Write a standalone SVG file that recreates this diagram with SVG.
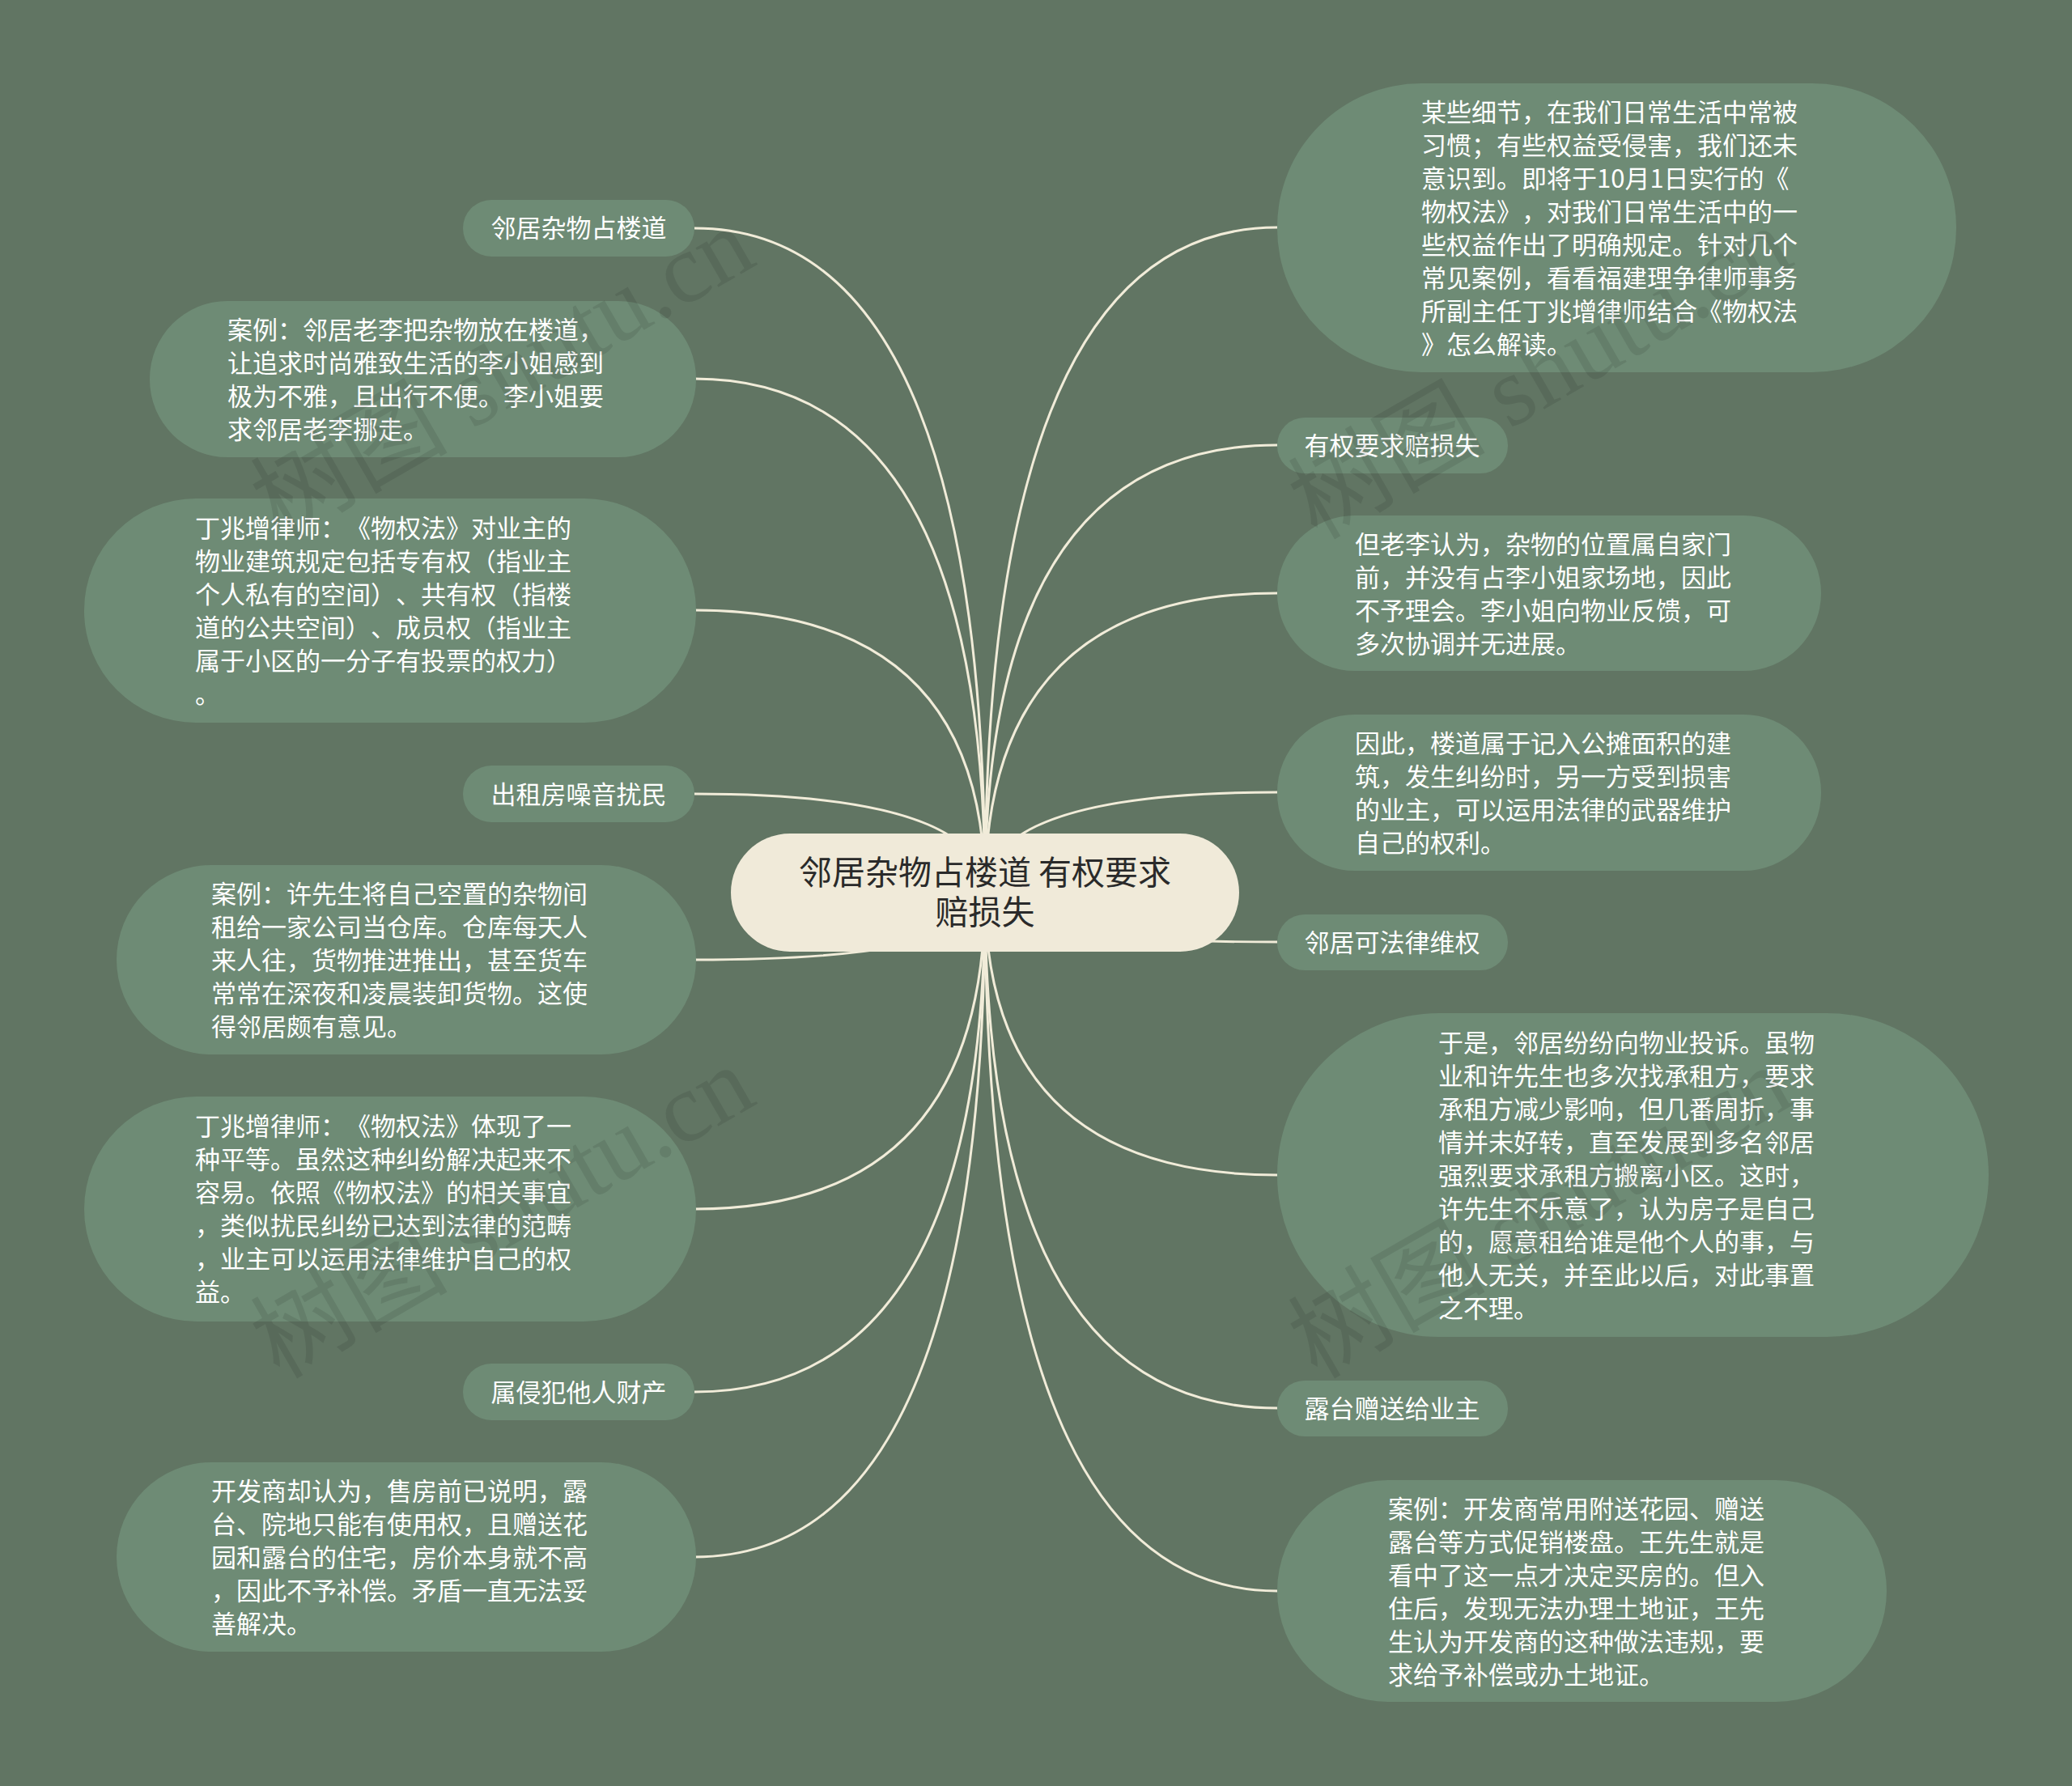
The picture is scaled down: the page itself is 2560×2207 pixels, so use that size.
<svg xmlns="http://www.w3.org/2000/svg" width="2560" height="2207" viewBox="0 0 2560 2207">
<style>
.bg{fill:#617563}
.node{fill:#6e8b75}
.root{fill:#f0ead9}
.t{font-family:"Noto Sans CJK SC","Noto Sans",sans-serif;font-size:31px;fill:#ffffff;text-spacing-trim:space-all;font-feature-settings:"chws" 0,"halt" 0}
.tc{text-anchor:middle}
.rt{font-family:"Noto Sans CJK SC","Noto Sans",sans-serif;font-size:41px;fill:#2a2a2a;text-anchor:middle}
.wm{font-family:"Liberation Serif","Noto Sans CJK SC",serif;font-size:122px;fill:#000000;fill-opacity:0.09}
#connectors path{fill:none;stroke:#f1ecd9;stroke-width:3}
</style>
<rect class="bg" x="0" y="0" width="2560" height="2207"/>
<g id="connectors">
<path d="M1217 1103 Q1217 282 858 282"/>
<path d="M1217 1103 Q1217 468 858 468"/>
<path d="M1217 1103 Q1217 754 858 754"/>
<path d="M1217 1103 Q1217 981 858 981"/>
<path d="M1217 1103 Q1217 1186 858 1186"/>
<path d="M1217 1103 Q1217 1494 858 1494"/>
<path d="M1217 1103 Q1217 1720 858 1720"/>
<path d="M1217 1103 Q1217 1924 858 1924"/>
<path d="M1217 1103 Q1217 281 1578 281"/>
<path d="M1217 1103 Q1217 550 1578 550"/>
<path d="M1217 1103 Q1217 733 1578 733"/>
<path d="M1217 1103 Q1217 979 1578 979"/>
<path d="M1217 1103 Q1217 1164 1578 1164"/>
<path d="M1217 1103 Q1217 1452 1578 1452"/>
<path d="M1217 1103 Q1217 1740 1578 1740"/>
<path d="M1217 1103 Q1217 1966 1578 1966"/>
</g>
<g id="root">
<rect class="root" x="903" y="1030" width="628" height="146" rx="73"/>
<text class="rt"><tspan x="1217" y="1093">邻居杂物占楼道 有权要求</tspan><tspan x="1217" y="1142">赔损失</tspan></text>
</g>
<g id="n1">
<rect class="node" x="572" y="247" width="286" height="70" rx="35"/>
<text class="t tc" x="715" y="293">邻居杂物占楼道</text>
</g>
<g id="n2">
<rect class="node" x="185" y="372" width="675" height="193" rx="96"/>
<text class="t"><tspan x="281" y="419">案例：邻居老李把杂物放在楼道，</tspan><tspan x="281" y="460">让追求时尚雅致生活的李小姐感到</tspan><tspan x="281" y="501">极为不雅，且出行不便。李小姐要</tspan><tspan x="281" y="542">求邻居老李挪走。</tspan></text>
</g>
<g id="n3">
<rect class="node" x="104" y="616" width="756" height="277" rx="138"/>
<text class="t"><tspan x="241" y="664">丁兆增律师：《物权法》对业主的</tspan><tspan x="241" y="705">物业建筑规定包括专有权（指业主</tspan><tspan x="241" y="746">个人私有的空间）、共有权（指楼</tspan><tspan x="241" y="787">道的公共空间）、成员权（指业主</tspan><tspan x="241" y="828">属于小区的一分子有投票的权力）</tspan><tspan x="241" y="869">。</tspan></text>
</g>
<g id="n4">
<rect class="node" x="572" y="946" width="286" height="70" rx="35"/>
<text class="t tc" x="715" y="993">出租房噪音扰民</text>
</g>
<g id="n5">
<rect class="node" x="144" y="1069" width="716" height="234" rx="117"/>
<text class="t"><tspan x="261" y="1116">案例：许先生将自己空置的杂物间</tspan><tspan x="261" y="1157">租给一家公司当仓库。仓库每天人</tspan><tspan x="261" y="1198">来人往，货物推进推出，甚至货车</tspan><tspan x="261" y="1239">常常在深夜和凌晨装卸货物。这使</tspan><tspan x="261" y="1280">得邻居颇有意见。</tspan></text>
</g>
<g id="n6">
<rect class="node" x="104" y="1355" width="756" height="278" rx="139"/>
<text class="t"><tspan x="241" y="1403">丁兆增律师：《物权法》体现了一</tspan><tspan x="241" y="1444">种平等。虽然这种纠纷解决起来不</tspan><tspan x="241" y="1485">容易。依照《物权法》的相关事宜</tspan><tspan x="241" y="1526">，类似扰民纠纷已达到法律的范畴</tspan><tspan x="241" y="1567">，业主可以运用法律维护自己的权</tspan><tspan x="241" y="1608">益。</tspan></text>
</g>
<g id="n7">
<rect class="node" x="572" y="1685" width="286" height="70" rx="35"/>
<text class="t tc" x="715" y="1732">属侵犯他人财产</text>
</g>
<g id="n8">
<rect class="node" x="144" y="1807" width="716" height="234" rx="117"/>
<text class="t"><tspan x="261" y="1854">开发商却认为，售房前已说明，露</tspan><tspan x="261" y="1895">台、院地只能有使用权，且赠送花</tspan><tspan x="261" y="1936">园和露台的住宅，房价本身就不高</tspan><tspan x="261" y="1977">，因此不予补偿。矛盾一直无法妥</tspan><tspan x="261" y="2018">善解决。</tspan></text>
</g>
<g id="n9">
<rect class="node" x="1578" y="103" width="839" height="357" rx="178"/>
<text class="t"><tspan x="1756" y="150">某些细节，在我们日常生活中常被</tspan><tspan x="1756" y="191">习惯；有些权益受侵害，我们还未</tspan><tspan x="1756" y="232">意识到。即将于10月1日实行的《</tspan><tspan x="1756" y="273">物权法》，对我们日常生活中的一</tspan><tspan x="1756" y="314">些权益作出了明确规定。针对几个</tspan><tspan x="1756" y="355">常见案例，看看福建理争律师事务</tspan><tspan x="1756" y="396">所副主任丁兆增律师结合《物权法</tspan><tspan x="1756" y="437">》怎么解读。</tspan></text>
</g>
<g id="n10">
<rect class="node" x="1578" y="516" width="285" height="69" rx="34"/>
<text class="t tc" x="1720" y="562">有权要求赔损失</text>
</g>
<g id="n11">
<rect class="node" x="1578" y="637" width="672" height="192" rx="96"/>
<text class="t"><tspan x="1674" y="684">但老李认为，杂物的位置属自家门</tspan><tspan x="1674" y="725">前，并没有占李小姐家场地，因此</tspan><tspan x="1674" y="766">不予理会。李小姐向物业反馈，可</tspan><tspan x="1674" y="807">多次协调并无进展。</tspan></text>
</g>
<g id="n12">
<rect class="node" x="1578" y="883" width="672" height="193" rx="96"/>
<text class="t"><tspan x="1674" y="930">因此，楼道属于记入公摊面积的建</tspan><tspan x="1674" y="971">筑，发生纠纷时，另一方受到损害</tspan><tspan x="1674" y="1012">的业主，可以运用法律的武器维护</tspan><tspan x="1674" y="1053">自己的权利。</tspan></text>
</g>
<g id="n13">
<rect class="node" x="1578" y="1130" width="285" height="69" rx="34"/>
<text class="t tc" x="1720" y="1176">邻居可法律维权</text>
</g>
<g id="n14">
<rect class="node" x="1578" y="1252" width="879" height="400" rx="200"/>
<text class="t"><tspan x="1777" y="1300">于是，邻居纷纷向物业投诉。虽物</tspan><tspan x="1777" y="1341">业和许先生也多次找承租方，要求</tspan><tspan x="1777" y="1382">承租方减少影响，但几番周折，事</tspan><tspan x="1777" y="1423">情并未好转，直至发展到多名邻居</tspan><tspan x="1777" y="1464">强烈要求承租方搬离小区。这时，</tspan><tspan x="1777" y="1505">许先生不乐意了，认为房子是自己</tspan><tspan x="1777" y="1546">的，愿意租给谁是他个人的事，与</tspan><tspan x="1777" y="1587">他人无关，并至此以后，对此事置</tspan><tspan x="1777" y="1628">之不理。</tspan></text>
</g>
<g id="n15">
<rect class="node" x="1578" y="1706" width="285" height="69" rx="34"/>
<text class="t tc" x="1720" y="1752">露台赠送给业主</text>
</g>
<g id="n16">
<rect class="node" x="1578" y="1829" width="753" height="274" rx="137"/>
<text class="t"><tspan x="1715" y="1876">案例：开发商常用附送花园、赠送</tspan><tspan x="1715" y="1917">露台等方式促销楼盘。王先生就是</tspan><tspan x="1715" y="1958">看中了这一点才决定买房的。但入</tspan><tspan x="1715" y="1999">住后，发现无法办理土地证，王先</tspan><tspan x="1715" y="2040">生认为开发商的这种做法违规，要</tspan><tspan x="1715" y="2081">求给予补偿或办土地证。</tspan></text>
</g>
<g id="watermarks">
<text class="wm" transform="translate(345 668) rotate(-30)">树图 shutu.cn</text>
<text class="wm" transform="translate(1627 668) rotate(-30)">树图 shutu.cn</text>
<text class="wm" transform="translate(345 1705) rotate(-30)">树图 shutu.cn</text>
<text class="wm" transform="translate(1627 1705) rotate(-30)">树图 shutu.cn</text>
</g>
</svg>
